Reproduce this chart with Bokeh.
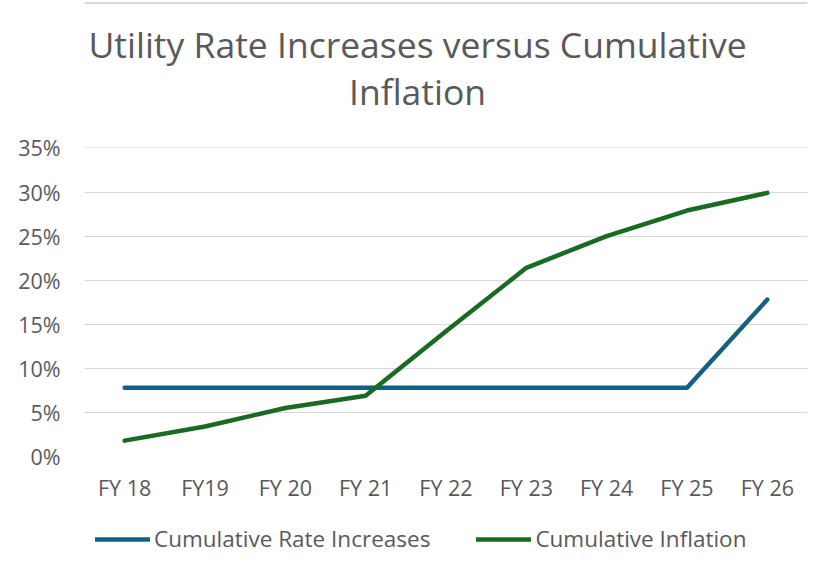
from bokeh.plotting import figure
from bokeh.layouts import column
from bokeh.models import (ColumnDataSource, FactorRange, Range1d, FixedTicker,
                          NumeralTickFormatter, Label, Legend, LegendItem, Span)
from bokeh.embed import file_html
from bokeh.resources import INLINE

categories = ["FY 18", "FY19", "FY 20", "FY 21", "FY 22", "FY 23", "FY 24", "FY 25", "FY 26"]
rate_increases = [0.078, 0.078, 0.078, 0.078, 0.078, 0.078, 0.078, 0.078, 0.178]
inflation = [0.018, 0.034, 0.055, 0.069, 0.142, 0.214, 0.250, 0.279, 0.299]
y_ticks = [0.0, 0.05, 0.10, 0.15, 0.20, 0.25, 0.30, 0.35]
title_lines = ["Utility Rate Increases versus Cumulative", "Inflation"]
series_names = ["Cumulative Rate Increases", "Cumulative Inflation"]

FONT = "Open Sans"
GRAY = "#595959"
BLUE = "#156082"
GREEN = "#196B24"
W = 818


def bare(height):
    f = figure(width=W, height=height, x_range=Range1d(0, 1), y_range=Range1d(0, 1),
               output_backend="svg", toolbar_location=None,
               x_axis_location=None, y_axis_location=None,
               min_border=0, min_border_left=0, min_border_right=0,
               min_border_top=0, min_border_bottom=0)
    f.grid.visible = False
    f.outline_line_color = None
    f.background_fill_color = "white"
    f.border_fill_color = "white"
    return f


# ---- title block (frame is aligned with the chart frame below) ----
pt = bare(127)
pt.add_layout(Span(location=124.5, location_units="screen", dimension="width",
                   line_color="#D9D9D9", line_width=2))
for txt, yy in zip(title_lines, [84, 37]):
    pt.add_layout(Label(x=333, y=yy, x_units="screen", y_units="screen", text=txt,
                        text_align="center", text_baseline="alphabetic",
                        text_font=FONT, text_font_size="35.5px", text_color=GRAY))

# ---- main chart ----
src = ColumnDataSource(dict(cat=categories, rate=rate_increases, infl=inflation))
p = figure(width=W, height=393, x_range=FactorRange(*categories),
           y_range=Range1d(0, 0.3505), output_backend="svg", toolbar_location=None,
           min_border_left=84, min_border_right=11, min_border_top=20,
           min_border_bottom=64)
p.outline_line_color = None
p.background_fill_color = "white"
p.border_fill_color = "white"

p.line("cat", "rate", source=src, line_color=BLUE, line_width=4.5,
       line_cap="round", line_join="round")
p.line("cat", "infl", source=src, line_color=GREEN, line_width=4.5,
       line_cap="round", line_join="round")

p.yaxis.ticker = FixedTicker(ticks=y_ticks)
p.yaxis.formatter = NumeralTickFormatter(format="0%")
for ax in (p.xaxis[0], p.yaxis[0]):
    ax.axis_line_color = None
    ax.major_tick_line_color = None
    ax.minor_tick_line_color = None
    ax.major_label_text_font = FONT
    ax.major_label_text_font_size = "21.5px"
    ax.major_label_text_color = GRAY
p.xaxis.major_label_standoff = 10
p.yaxis.major_label_standoff = 18
p.xgrid.grid_line_color = None
p.ygrid.grid_line_color = "#D9D9D9"
p.ygrid.grid_line_width = 1.2

# ---- legend block ----
pl = bare(40)
l1 = pl.line(x=[-5, -4], y=[-5, -4], line_color=BLUE, line_width=4.5, line_cap="round")
l2 = pl.line(x=[-5, -4], y=[-5, -4], line_color=GREEN, line_width=4.5, line_cap="round")
legend = Legend(items=[LegendItem(label=series_names[0], renderers=[l1]),
                       LegendItem(label=series_names[1], renderers=[l2])],
                orientation="horizontal", location=(11, 6),
                glyph_width=55, glyph_height=26, label_standoff=4, spacing=46,
                padding=0, margin=0, border_line_color=None,
                background_fill_alpha=0, label_height=26,
                label_text_font=FONT, label_text_font_size="22.5px",
                label_text_color=GRAY)
pl.add_layout(legend, "center")

layout = column(pt, p, pl, spacing=0)
open("out.html", "w").write(file_html(layout, INLINE))
